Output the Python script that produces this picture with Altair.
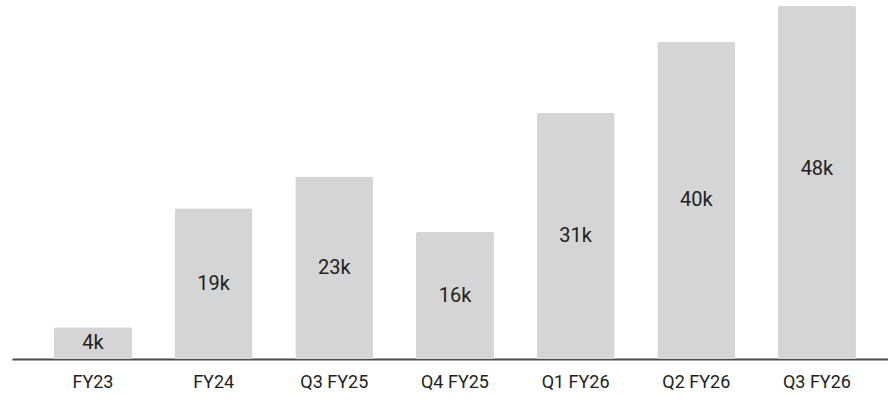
import altair as alt
import pandas as pd

# Quarterly totals, in thousands
periods = ["FY23", "FY24", "Q3 FY25", "Q4 FY25", "Q1 FY26", "Q2 FY26", "Q3 FY26"]
totals = [4, 19, 23, 16, 31, 40, 48]

df = pd.DataFrame({"period": periods, "total": totals})
df["label"] = df["total"].astype(str) + "k"
df["mid"] = df["total"] / 2

x_enc = alt.X(
    "period:N",
    sort=periods,
    title=None,
    scale=alt.Scale(paddingInner=0.3536, paddingOuter=0.3068, align=0.567),
    axis=alt.Axis(
        labelAngle=0,
        labelFont="Roboto",
        labelFontSize=18,
        labelColor="#222222",
        labelPadding=14,
        ticks=False,
        domainColor="#4a4a4a",
        domainWidth=2,
        grid=False,
    ),
)

# The plot area tops out at 44.5k; taller bars run to the top edge
y_scale = alt.Scale(domain=[0, 44.5], nice=False, zero=True, clamp=True)

bars = alt.Chart(df).mark_bar(
    color="#d5d5d5", cornerRadiusTopLeft=2, cornerRadiusTopRight=2
).encode(
    x=x_enc,
    y=alt.Y("total:Q", scale=y_scale, axis=None),
)

labels = alt.Chart(df).mark_text(
    font="Roboto", fontSize=20, color="#222222", baseline="middle", align="center"
).encode(
    x=alt.X("period:N", sort=periods),
    y=alt.Y("mid:Q", scale=y_scale, axis=None),
    text="label:N",
)

chart = (
    alt.layer(bars, labels)
    .properties(
        width=876,
        height=353,
        padding={"left": 12, "top": 6, "right": 0, "bottom": 41},
        autosize=alt.AutoSizeParams(type="none"),
    )
    .configure_view(strokeWidth=0)
)

chart.save("out.html", embed_options={"renderer": "svg", "actions": False})
